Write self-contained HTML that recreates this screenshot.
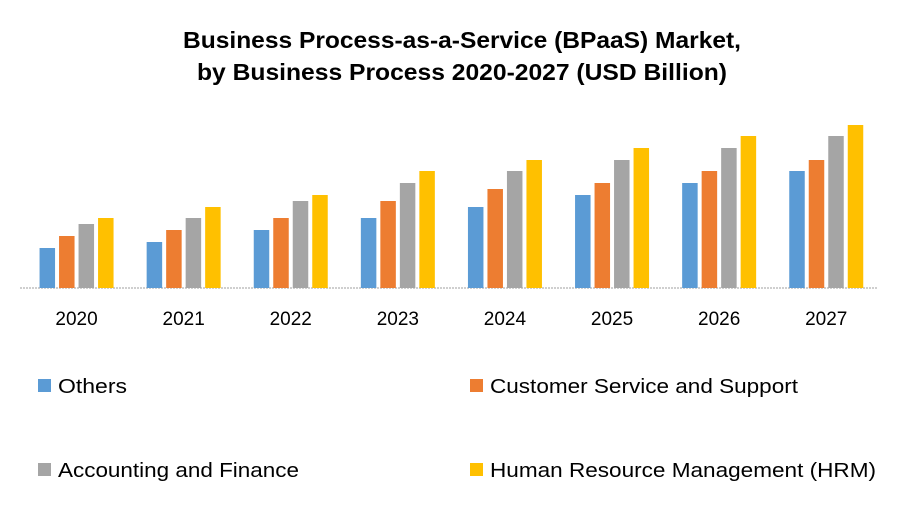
<!DOCTYPE html>
<html><head><meta charset="utf-8"><style>
body{margin:0;background:#fff;font-family:"Liberation Sans",Calibri,sans-serif}
svg text{font-family:"Liberation Sans",sans-serif}
</style></head><body>
<svg width="900" height="525" id="chart">
<text x="183" y="48" textLength="558" lengthAdjust="spacingAndGlyphs" font-size="23" font-weight="bold" fill="#000">Business Process-as-a-Service (BPaaS)  Market,</text>
<text x="197" y="80" textLength="530" lengthAdjust="spacingAndGlyphs" font-size="23" font-weight="bold" fill="#000">by Business Process 2020-2027 (USD Billion)</text>
<line x1="20" y1="288" x2="878" y2="288" stroke="#bfbfbf" stroke-width="1.5" stroke-dasharray="2,1"/>
<g id="bars"></g>
<g id="legend"></g>
</svg>
<script>
const categories=["2020","2021","2022","2023","2024","2025","2026","2027"];
const seriesNames=["Others","Customer Service and Support","Accounting and Finance","Human Resource Management (HRM)"];
const others=[4.0,4.6,5.8,7.0,8.1,9.3,10.5,11.7];
const customer=[5.2,5.8,7.0,8.7,9.9,10.5,11.7,12.8];
const accounting=[6.4,7.0,8.7,10.5,11.7,12.8,14.0,15.2];
const hrm=[7.0,8.1,9.3,11.7,12.8,14.0,15.2,16.3];
const colors=["#5b9bd5","#ed7d31","#a5a5a5","#ffc000"];
const series=[others,customer,accounting,hrm];
const ns="http://www.w3.org/2000/svg";
const x0=23,gw=107.1,base=288,pxPer=10;
const yScale=v=>base-v*pxPer;
const xBar=(i,s)=>x0+(i+0.5)*gw-37+s*19.5;
const g=document.getElementById('bars');
series.forEach((arr,s)=>arr.forEach((v,i)=>{
 const r=document.createElementNS(ns,'rect');
 r.setAttribute('x',xBar(i,s));r.setAttribute('y',yScale(v));
 r.setAttribute('width',15.5);r.setAttribute('height',base-yScale(v));
 r.setAttribute('fill',colors[s]);
 
 
 g.appendChild(r);
}));
categories.forEach((c,i)=>{
 const t=document.createElementNS(ns,'text');
 t.setAttribute('x',x0+(i+0.5)*gw);t.setAttribute('y',325);
 t.setAttribute('text-anchor','middle');t.setAttribute('font-size','19');
 t.textContent=c;
 
 
 g.appendChild(t);
});
const lg=document.getElementById('legend');
const pos=[[38,386],[470,386],[38,470],[470,470]];
const lens=[69,308,241,386];
seriesNames.forEach((n,s)=>{
 const r=document.createElementNS(ns,'rect');
 r.setAttribute('x',pos[s][0]);r.setAttribute('y',pos[s][1]-7);
 r.setAttribute('width',13);r.setAttribute('height',13);r.setAttribute('fill',colors[s]);
 
 
 lg.appendChild(r);
 const t=document.createElementNS(ns,'text');
 t.setAttribute('x',pos[s][0]+20);t.setAttribute('y',pos[s][1]+7);
 t.setAttribute('font-size','20');t.setAttribute('textLength',lens[s]);
 t.setAttribute('lengthAdjust','spacingAndGlyphs');t.textContent=n;
 
 
 lg.appendChild(t);
});
</script>
</body></html>
